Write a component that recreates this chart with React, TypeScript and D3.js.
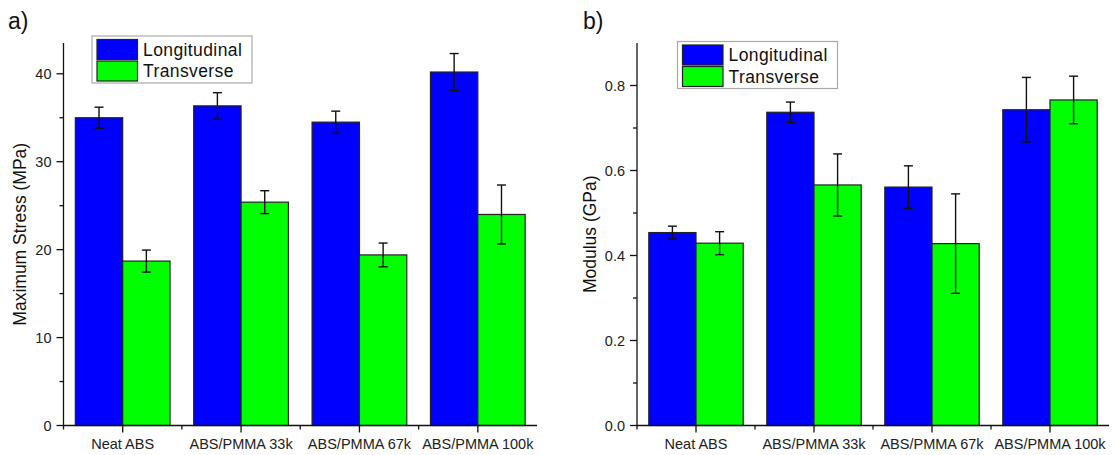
import React from "react";
import * as d3 from "d3";

const categories = ["Neat ABS", "ABS/PMMA 33k", "ABS/PMMA 67k", "ABS/PMMA 100k"];
const seriesNames = ["Longitudinal", "Transverse"];
const seriesColors = ["#0000ff", "#00ff00"];

// Panel a) maximum stress (MPa)
const stressLong = [35.0, 36.35, 34.5, 40.2];
const stressLongErr = [1.2, 1.5, 1.25, 2.1];
const stressTrans = [18.7, 25.4, 19.4, 24.0];
const stressTransErr = [1.25, 1.3, 1.35, 3.35];
const stressTicks = [0, 10, 20, 30, 40];
const stressMinor = [5, 15, 25, 35];

// Panel b) modulus (GPa)
const modLong = [0.454, 0.737, 0.561, 0.743];
const modLongErr = [0.015, 0.024, 0.05, 0.076];
const modTrans = [0.429, 0.566, 0.428, 0.766];
const modTransErr = [0.027, 0.073, 0.117, 0.056];
const modTicks = [0, 0.2, 0.4, 0.6, 0.8];
const modMinor = [0.1, 0.3, 0.5, 0.7];

const FONT = "Arial, 'Liberation Sans', sans-serif";

type PanelProps = {
  label: string;
  yTitle: string;
  x0: number;
  x1: number;
  yMax: number;
  yTicks: number[];
  yMinor: number[];
  fmt: (v: number) => string;
  values: number[][];
  errors: number[][];
  legendX: number;
  legendY: number;
  titleX: number;
};

function Panel(p: PanelProps) {
  const yBottom = 425.5;
  const yTop = 43;
  const x = d3.scaleBand<string>().domain(categories).range([p.x0, p.x1]).paddingInner(0.2).paddingOuter(0.1);
  const sub = d3.scaleBand<number>().domain([0, 1]).range([0, x.bandwidth()]);
  const y = d3.scaleLinear().domain([0, p.yMax]).range([yBottom, yTop]);
  const step = x.step();
  const capW = 9;

  return (
    <g>
      <text x={p.label === "a)" ? 8 : 583} y={29} fontSize={23} fontFamily={FONT} fill="#111">
        {p.label}
      </text>
      {/* bars */}
      {categories.map((c, i) =>
        p.values.map((vals, s) => {
          const bx = (x(c) as number) + (sub(s) as number);
          return (
            <rect
              key={c + s}
              x={bx}
              y={y(vals[i])}
              width={sub.bandwidth()}
              height={yBottom - y(vals[i])}
              fill={seriesColors[s]}
              stroke="#222"
              strokeWidth={1.2}
            />
          );
        })
      )}
      {/* error bars */}
      {categories.map((c, i) =>
        p.values.map((vals, s) => {
          const cx = (x(c) as number) + (sub(s) as number) + sub.bandwidth() / 2;
          const hi = y(vals[i] + p.errors[s][i]);
          const lo = y(vals[i] - p.errors[s][i]);
          return (
            <g key={"e" + c + s} stroke="#111" strokeWidth={1.4}>
              <line x1={cx} x2={cx} y1={hi} y2={lo} />
              <line x1={cx - capW / 2} x2={cx + capW / 2} y1={hi} y2={hi} />
              <line x1={cx - capW / 2} x2={cx + capW / 2} y1={lo} y2={lo} />
            </g>
          );
        })
      )}
      {/* y axis */}
      <line x1={p.x0} x2={p.x0} y1={yTop} y2={yBottom} stroke="#111" strokeWidth={1.3} />
      {p.yTicks.map((t) => (
        <g key={"yt" + t}>
          <line x1={p.x0 - 7} x2={p.x0} y1={y(t)} y2={y(t)} stroke="#111" strokeWidth={1.3} />
          <text
            x={p.x0 - 12}
            y={y(t)}
            dy="0.35em"
            textAnchor="end"
            fontSize={14.5}
            fontFamily={FONT}
            fill="#222"
          >
            {p.fmt(t)}
          </text>
        </g>
      ))}
      {p.yMinor.map((t) => (
        <line key={"ym" + t} x1={p.x0 - 4} x2={p.x0} y1={y(t)} y2={y(t)} stroke="#111" strokeWidth={1.3} />
      ))}
      <text
        transform={`translate(${p.titleX},${(yTop + yBottom) / 2}) rotate(-90)`}
        textAnchor="middle"
        fontSize={17.5}
        fontFamily={FONT}
        fill="#111"
      >
        {p.yTitle}
      </text>
      {/* x axis */}
      <line x1={p.x0} x2={p.x1} y1={yBottom} y2={yBottom} stroke="#111" strokeWidth={1.3} />
      {categories.map((c) => {
        const cx = (x(c) as number) + x.bandwidth() / 2;
        return (
          <g key={"xt" + c}>
            <line x1={cx} x2={cx} y1={yBottom} y2={yBottom + 7} stroke="#111" strokeWidth={1.3} />
            <text x={cx} y={449} textAnchor="middle" fontSize={14.5} fontFamily={FONT} fill="#222">
              {c}
            </text>
          </g>
        );
      })}
      {categories.map((c, i) => (
        <line
          key={"xm" + c}
          x1={p.x0 + step * i}
          x2={p.x0 + step * i}
          y1={yBottom}
          y2={yBottom + 4}
          stroke="#111"
          strokeWidth={1.3}
        />
      ))}
      {/* legend */}
      <g transform={`translate(${p.legendX},${p.legendY})`}>
        <rect x={0} y={0} width={160} height={47} fill="#fff" stroke="#aaa" strokeWidth={1.2} />
        {seriesNames.map((n, s) => (
          <g key={n}>
            <rect x={5} y={3.5 + s * 21.5} width={40.5} height={20} fill={seriesColors[s]} stroke="#222" strokeWidth={1.2} />
            <text x={51} y={13.5 + s * 21.5} dy="0.36em" fontSize={17.5} fontFamily={FONT} fill="#111" letterSpacing={0.4}>
              {n}
            </text>
          </g>
        ))}
      </g>
    </g>
  );
}

export default function App() {
  return (
    <svg
      width={1115}
      height={455}
      style={{ position: "absolute", left: 0, top: 0, background: "#fff" }}
    >
      <rect width={1115} height={455} fill="#fff" />
      <Panel
        label="a)"
        yTitle="Maximum Stress (MPa)"
        x0={63.5}
        x1={537}
        yMax={43.5}
        yTicks={stressTicks}
        yMinor={stressMinor}
        fmt={(v) => d3.format("d")(v)}
        values={[stressLong, stressTrans]}
        errors={[stressLongErr, stressTransErr]}
        legendX={92}
        legendY={36}
        titleX={26}
      />
      <Panel
        label="b)"
        yTitle="Modulus (GPa)"
        x0={637}
        x1={1109}
        yMax={0.9}
        yTicks={modTicks}
        yMinor={modMinor}
        fmt={(v) => d3.format(".1f")(v)}
        values={[modLong, modTrans]}
        errors={[modLongErr, modTransErr]}
        legendX={677.5}
        legendY={41.5}
        titleX={596}
      />
    </svg>
  );
}
